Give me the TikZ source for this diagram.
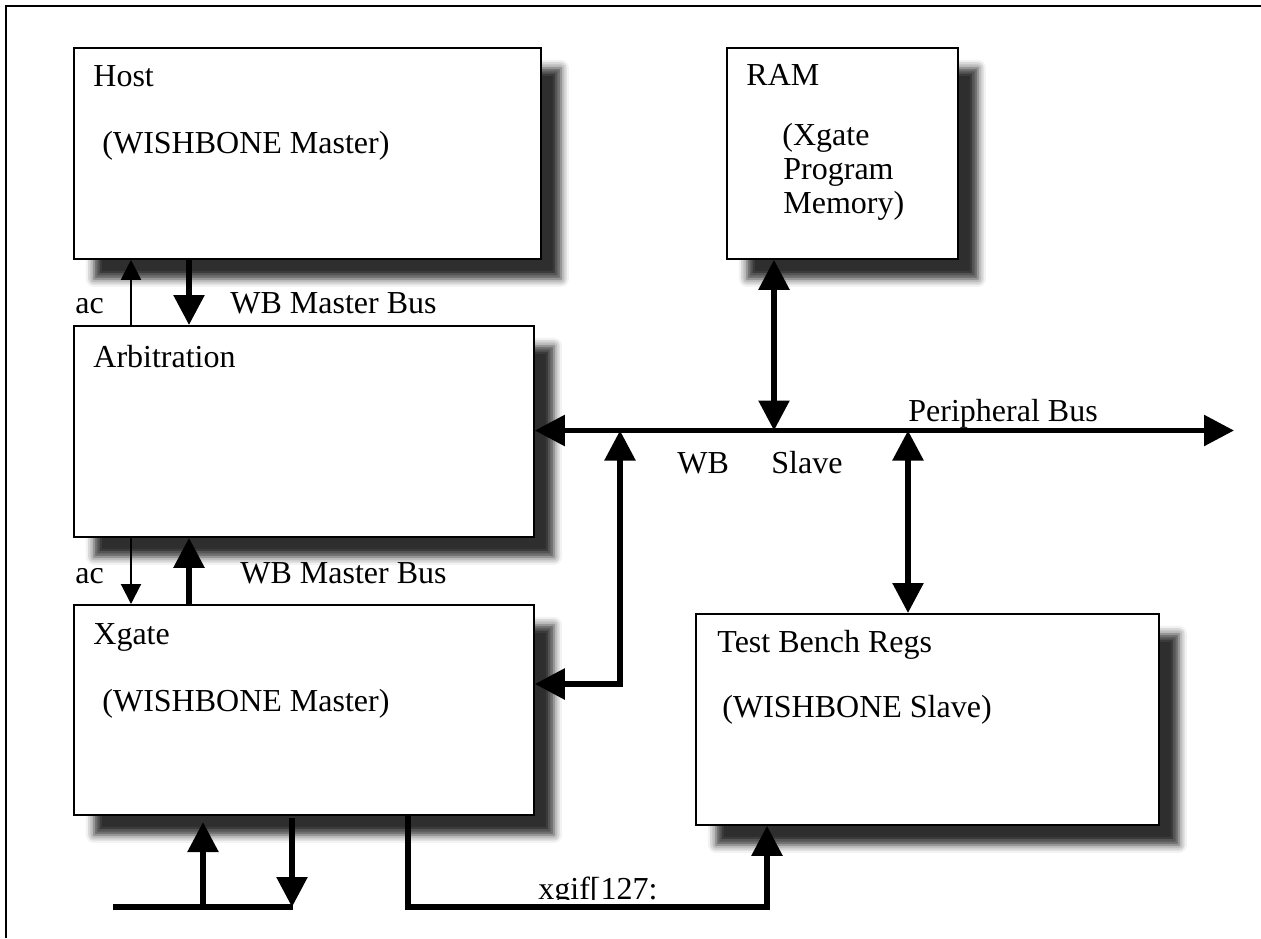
\documentclass[tikz,border=0pt]{standalone}
\usepackage{fontspec}
\setmainfont{Liberation Serif}
\usetikzlibrary{arrows.meta,shadows.blur}
\begin{document}
\begin{tikzpicture}[x=0.5pt,y=-0.5pt,
  font=\fontsize{16pt}{19pt}\selectfont,
  box/.style={draw=black,line width=0.9pt,fill=white,inner sep=0pt,anchor=north west,
    blur shadow={shadow xshift=10pt,shadow yshift=-10pt,shadow blur radius=4pt,shadow opacity=82}},
  lbl/.style={anchor=base west,inner sep=0pt},
  bus/.style={line width=2.8pt,-{Triangle[length=15pt,width=15pt]}},
  busboth/.style={line width=2.8pt,{Triangle[length=15pt,width=15pt]}-{Triangle[length=15pt,width=15pt]}},
  busline/.style={line width=2.8pt},
  thin/.style={line width=1pt,-{Triangle[length=10pt,width=10pt]}}]
\useasboundingbox (0,0) rectangle (1261,938);
\draw[line width=1pt] (6,938) -- (6,6) -- (1261,6);

% boxes
\node[box,minimum width=233.5pt,minimum height=105.5pt] (host) at (73,47) {};
\node[box,minimum width=230pt,minimum height=105.5pt] (arb) at (73,325) {};
\node[box,minimum width=230pt,minimum height=105pt] (xg) at (73,604) {};
\node[box,minimum width=115.5pt,minimum height=105.5pt] (ram) at (726,47) {};
\node[box,minimum width=231.5pt,minimum height=105.5pt] (tb) at (695,613) {};

% box texts
\node[lbl] (hostT) at (93,86) {Host};
\node[lbl] (hostS) at (102,153) {(WISHBONE Master)};
\node[lbl] (arbT) at (93,367) {Arbitration};
\node[lbl] (xgT) at (93,644) {Xgate};
\node[lbl] (xgS) at (102,711) {(WISHBONE Master)};
\node[lbl] (ramT) at (746,85) {RAM};
\node[lbl] (ramS1) at (782,145) {(Xgate};
\node[lbl] (ramS2) at (783,179) {Program};
\node[lbl] (ramS3) at (783,213) {Memory)};
\node[lbl] (tbT) at (717,652) {Test Bench Regs};
\node[lbl] (tbS) at (722,717) {(WISHBONE Slave)};

% coordinates
\coordinate (pa) at (131,0);
\coordinate (pb) at (189,0);
\coordinate (busR) at (1234,430.5);
\coordinate (jr) at (774,430.5);
\coordinate (jt) at (908,430.5);
\coordinate (jx) at (620,430.5);
\coordinate (kx) at (620,684);
\coordinate (bl) at (113,907);
\coordinate (br) at (293,907);
\coordinate (ua) at (203,907);
\coordinate (ub) at (203,822);
\coordinate (da) at (292,818);
\coordinate (db) at (292,907);
\coordinate (xb) at (408,907);
\coordinate (tbb) at (767,907);

% host <-> arbitration
\draw[thin] (arb.north -| pa) -- (host.south -| pa);
\draw[bus] (host.south -| pb) -- (arb.north -| pb);
% arbitration <-> xgate
\draw[thin] (arb.south -| pa) -- (xg.north -| pa);
\draw[bus] (xg.north -| pb) -- (arb.south -| pb);

% peripheral bus
\draw[busboth] (arb.east |- busR) -- (busR);
\draw[busboth] (ram.south -| jr) -- (jr);
\draw[busboth] (jt) -- (tb.north -| jt);
\draw[busboth] (xg.east |- kx) -- (kx) -- (jx);

% bottom
\draw[busline] (bl) -- (br);
\draw[bus] (ua) -- (ub);
\draw[bus] (da) -- (db);
\draw[bus] (xg.south -| xb) -- (xb) -- (tbb) -- (tb.south -| tbb);

% labels
\node[lbl] (ac1) at (75,313) {ac};
\node[lbl] (wbm1) at (230,313) {WB Master Bus};
\node[lbl] (ac2) at (75,583) {ac};
\node[lbl] (wbm2) at (240,583) {WB Master Bus};
\node[lbl] (wb) at (677,473) {WB};
\node[lbl] (slv) at (771,473) {Slave};
\node[lbl] (pbus) at (908,421) {Peripheral Bus};
\begin{scope}
\clip (520,850) rectangle (700,899);
\node[lbl] (xgif) at (538,899) {xgif[127:};
\end{scope}
\end{tikzpicture}
\end{document}
